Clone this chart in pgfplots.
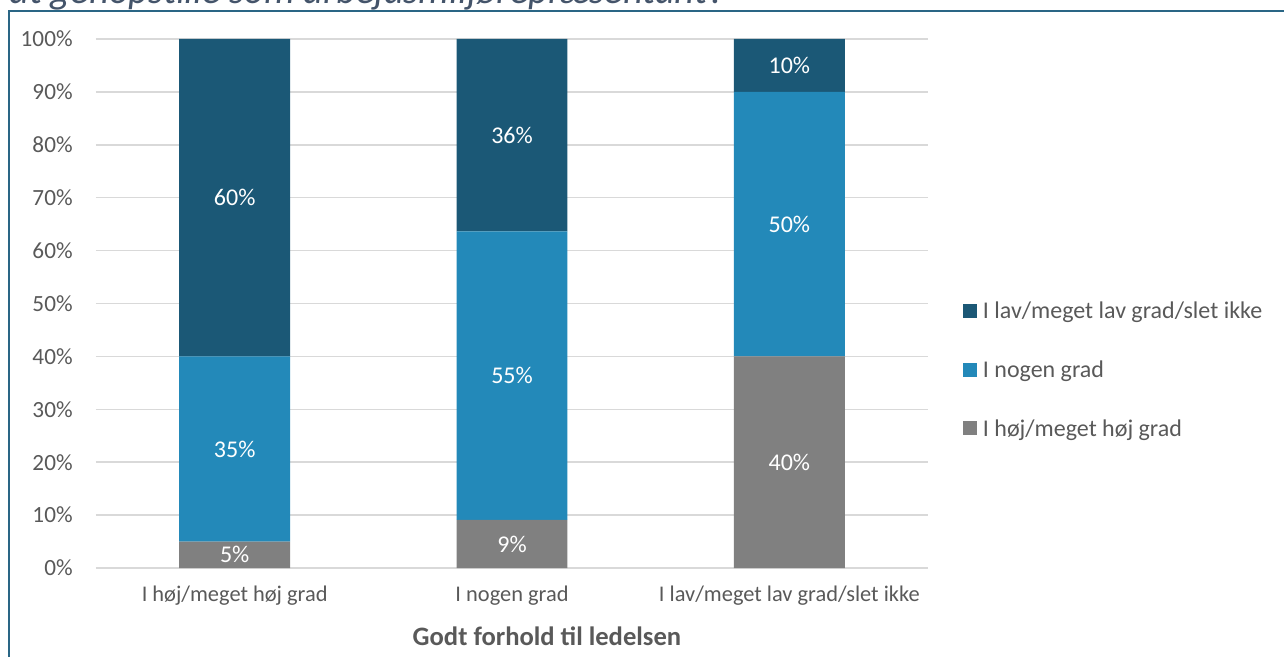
\documentclass[border=0pt]{standalone}
\usepackage{fontspec}
\setmainfont{Carlito}
\usepackage{pgfplots}
\pgfplotsset{compat=1.18}
\definecolor{cdark}{HTML}{1B5876}
\definecolor{cmid}{HTML}{2389B9}
\definecolor{cgray}{HTML}{808080}
\definecolor{ctext}{HTML}{595959}
\definecolor{cgrid}{HTML}{D9D9D9}
\definecolor{cframe}{HTML}{2A6685}
\definecolor{ctitle}{HTML}{44546A}
\pgfplotsset{geom/.style={at={(48pt,-284pt)}, anchor=south west,
  scale only axis, width=416pt, height=264.5pt,
  xmin=-0.5, xmax=2.5, ymin=0, ymax=100}}
\begin{document}
\begin{tikzpicture}
\path[use as bounding box, clip] (0pt,0pt) rectangle (642pt,-328.5pt);
\node[anchor=base west, inner sep=0pt, text=ctitle, font=\fontsize{19.3}{21}\selectfont\itshape] at (4.5pt,-1.6pt) {at genopstille som arbejdsmiljørepræsentant?};
\draw[cframe, line width=1pt] (4.5pt,-330pt) -- (4.5pt,-5.3pt) -- (645pt,-5.3pt);
\begin{axis}[
  geom,
  ybar stacked, bar width=0.4,
  xtick={0,1,2},
  xticklabels={I høj/meget høj grad, I nogen grad, I lav/meget lav grad/slet ikke},
  ytick={0,10,...,100},
  yticklabel={\pgfmathprintnumber{\tick}\%},
  /pgf/number format/assume math mode=true,
  ymajorgrids, grid style={cgrid, line width=0.75pt},
  axis line style={draw=none}, tick style={draw=none},
  yticklabel style={anchor=east, inner sep=0pt, xshift=-11.5pt, text=ctext, font=\fontsize{11.6}{13}\selectfont},
  xticklabel style={anchor=center, inner sep=0pt, yshift=-14pt, text=ctext, font=\fontsize{11.2}{13}\selectfont},
  xlabel={Godt forhold til ledelsen},
  xlabel style={at={(axis description cs:0.542,-0.1285)}, anchor=center, inner sep=0pt, text=ctext, font=\fontsize{13.3}{15}\selectfont\bfseries},
  legend style={at={(axis description cs:1.0415,0.511)}, anchor=north west, draw=none, fill=none, inner sep=0pt,
    font=\fontsize{12}{14}\selectfont, text=ctext, row sep=15.5pt, legend cell align=left,
    nodes={inner xsep=3pt}},
  legend image code/.code={\fill[#1] (0pt,-3pt) rectangle (7pt,4pt);},
  reverse legend,
]
\addplot[fill=cgray, draw=none] coordinates {(0,5) (1,9.09) (2,40)};
\addplot[fill=cmid, draw=none] coordinates {(0,35) (1,54.55) (2,50)};
\addplot[fill=cdark, draw=none] coordinates {(0,60) (1,36.36) (2,10)};
\legend{I høj/meget høj grad, I nogen grad, I lav/meget lav grad/slet ikke}
\end{axis}
\begin{axis}[geom, hide axis, clip=false]
\addplot[draw=none, mark=none, only marks, nodes near coords, nodes near coords align=center,
  point meta=explicit symbolic,
  every node near coord/.style={text=white, font=\fontsize{12}{14}\selectfont, inner sep=0pt, anchor=center}]
  coordinates {(0,2.5)[5\%] (0,22.5)[35\%] (0,70)[60\%]
               (1,4.545)[9\%] (1,36.365)[55\%] (1,81.82)[36\%]
               (2,20)[40\%] (2,65)[50\%] (2,95)[10\%]};
\end{axis}
\end{tikzpicture}
\end{document}
